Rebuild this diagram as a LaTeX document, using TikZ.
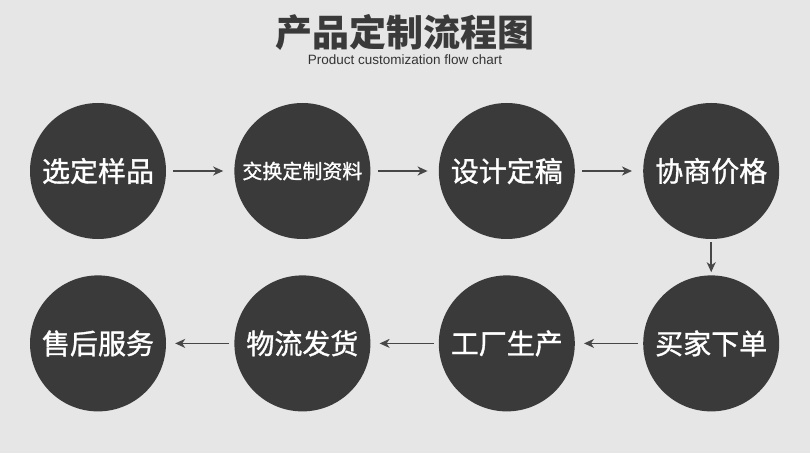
\documentclass[tikz,border=0pt]{standalone}
\usepackage{fontspec}
\usepackage{tikz}
\usetikzlibrary{arrows.meta,positioning}
\newfontfamily\cjk{Noto Sans CJK SC}
\newfontfamily\cjkmid{Noto Sans CJK SC}[FakeBold=1.2]
\setsansfont{Liberation Sans}
\definecolor{FlowBg}{HTML}{E6E6E6}
\definecolor{FlowDark}{HTML}{3A3A3A}
\definecolor{FlowArrow}{HTML}{474747}

\begin{document}
\begin{tikzpicture}[
  x=1pt, y=1pt,
  node distance=68pt and 68pt,
  stage/.style={circle, fill=FlowDark, text=white, minimum size=136pt, inner sep=0pt, font=\cjkmid\fontsize{28}{30}\selectfont},
  flow/.style={-{Stealth[length=10pt,width=9pt,inset=3pt]}, line width=1.5pt, FlowArrow}
]
\fill[FlowBg] (0,0) rectangle (810,453);
\useasboundingbox (0,0) rectangle (810,453);
\node[text=FlowDark, font=\cjk\bfseries\fontsize{37}{40}\selectfont] (title) at (405,421) {产品定制流程图};
\node[text=black!80, font=\sffamily\fontsize{13.5}{15}\selectfont] (sub) at (405,393) {Product customization flow chart};
\node[stage] (pick) at (98,282) {选定样品};
\node[stage, right=of pick, font=\cjkmid\fontsize{20}{22}\selectfont] (swap) {交换定制资料};
\node[stage, right=of swap] (design) {设计定稿};
\node[stage, right=of design] (price) {协商价格};
\node[stage, below=36pt of price] (order) {买家下单};
\node[stage, left=of order] (make) {工厂生产};
\node[stage, left=of make] (ship) {物流发货};
\node[stage, left=of ship] (after) {售后服务};
\draw[flow, shorten <=7pt, shorten >=11pt] (pick) -- (swap);
\draw[flow, shorten <=7pt, shorten >=11pt] (swap) -- (design);
\draw[flow, shorten <=7pt, shorten >=11pt] (design) -- (price);
\draw[flow, shorten <=3pt, shorten >=3pt] (price) -- (order);
\draw[flow, shorten <=5pt, shorten >=9pt] (order) -- (make);
\draw[flow, shorten <=5pt, shorten >=9pt] (make) -- (ship);
\draw[flow, shorten <=5pt, shorten >=9pt] (ship) -- (after);
\end{tikzpicture}
\end{document}
